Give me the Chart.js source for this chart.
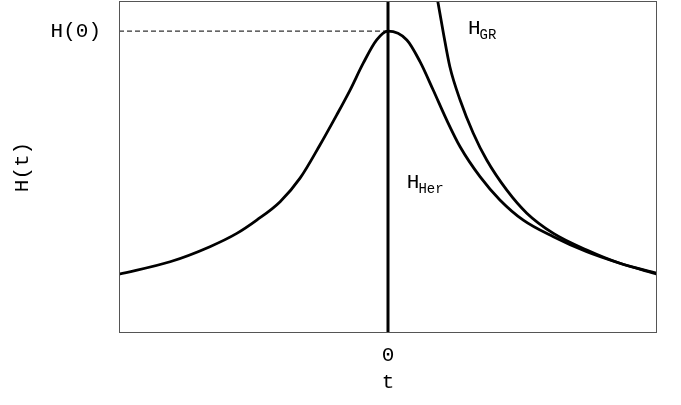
<!DOCTYPE html>
<html>
<head>
<meta charset="UTF-8">
<title>H(t)</title>
<script src="https://cdn.jsdelivr.net/npm/chart.js"></script>
<style>
  html, body { margin: 0; padding: 0; background: #fff; }
  #wrap { width: 681px; height: 405px; }
</style>
</head>
<body>
<div id="wrap"><canvas id="c" width="681" height="405"></canvas></div>
<script>
// H_Her curve
const tHer = [-1, -0.81, -0.662, -0.562, -0.488, -0.401, -0.327, -0.253, -0.191, -0.141, -0.092, -0.042, 0,
              0.07, 0.119, 0.168, 0.218, 0.268, 0.342, 0.416, 0.503, 0.615, 0.739, 0.862, 1.0];
const hHer = [0.195, 0.236, 0.286, 0.330, 0.374, 0.435, 0.513, 0.623, 0.722, 0.805, 0.894, 0.971, 1.0,
              0.971, 0.899, 0.805, 0.706, 0.617, 0.518, 0.441, 0.374, 0.319, 0.269, 0.231, 0.195];
// H_GR curve
const tGR = [0.175, 0.206, 0.23, 0.268, 0.317, 0.367, 0.441, 0.516, 0.615, 0.739, 0.862, 1.0];
const hGR = [1.15, 0.993, 0.882, 0.772, 0.662, 0.573, 0.474, 0.397, 0.330, 0.275, 0.231, 0.198];
// tick labels
const xTicks = [0];
const xTickLabels = ['0'];
const yTicks = [1];
const yTickLabels = ['H(0)'];

const FONT = '"Liberation Mono", "Courier New", monospace';

const pts = (xs, ys) => xs.map((x, i) => ({ x: x, y: ys[i] }));

// frame + curve labels
const extras = {
  id: 'extras',
  afterDatasetsDraw(chart) {
    const { ctx, chartArea: a, scales } = chart;
    ctx.save();
    ctx.strokeStyle = '#555';
    ctx.lineWidth = 1;
    ctx.strokeRect(a.left + 0.5, a.top + 0.5, a.right - a.left - 1, a.bottom - a.top - 1);

    const label = (main, sub, t, h) => {
      const x = scales.x.getPixelForValue(t);
      const y = scales.y.getPixelForValue(h);
      ctx.fillStyle = '#000';
      ctx.textBaseline = 'alphabetic';
      ctx.textAlign = 'left';
      ctx.font = '21px ' + FONT;
      ctx.fillText(main, x, y);
      const w = ctx.measureText(main).width;
      ctx.font = '14px ' + FONT;
      ctx.fillText(sub, x + w - 1, y + 5);
    };
    label('H', 'GR', 0.297, 0.99);
    label('H', 'Her', 0.07, 0.48);
    ctx.restore();
  }
};

new Chart(document.getElementById('c'), {
  type: 'scatter',
  data: {
    datasets: [
      { data: pts(tHer, hHer), showLine: true, borderColor: '#000', borderWidth: 2.8,
        pointRadius: 0, cubicInterpolationMode: 'monotone' },
      { data: pts(tGR, hGR), showLine: true, borderColor: '#000', borderWidth: 2.8,
        pointRadius: 0, cubicInterpolationMode: 'monotone' },
      // t = 0 line
      { data: [{ x: 0, y: 0 }, { x: 0, y: 1.1 }], showLine: true, borderColor: '#000',
        borderWidth: 3, pointRadius: 0 },
      // H(0) guide
      { data: [{ x: -1, y: 1 }, { x: 0, y: 1 }], showLine: true, borderColor: '#333',
        borderWidth: 1.2, borderDash: [5, 3], pointRadius: 0 }
    ]
  },
  options: {
    responsive: false,
    animation: false,
    layout: { padding: { top: 1, right: 24, bottom: 0, left: 0 } },
    plugins: { legend: { display: false }, tooltip: { enabled: false } },
    scales: {
      x: {
        type: 'linear', min: -1, max: 1,
        afterBuildTicks: s => { s.ticks = xTicks.map(v => ({ value: v })); },
        afterFit: s => { s.height = 72; s.paddingLeft = 0; s.paddingRight = 0; },
        ticks: { color: '#000', font: { family: FONT, size: 21 }, padding: 10,
                 callback: v => xTickLabels[xTicks.indexOf(v)] },
        grid: { display: false, drawTicks: false },
        border: { display: false },
        title: { display: true, text: 't', color: '#000', font: { family: FONT, size: 21 },
                 padding: { top: 0, bottom: 10 } }
      },
      y: {
        type: 'linear', min: 0, max: 1.1,
        afterBuildTicks: s => { s.ticks = yTicks.map(v => ({ value: v })); },
        afterFit: s => { s.width = 119; s.paddingTop = 0; s.paddingBottom = 0; },
        ticks: { color: '#000', font: { family: FONT, size: 21 }, padding: 18,
                 callback: v => yTickLabels[yTicks.indexOf(v)] },
        grid: { display: false, drawTicks: false },
        border: { display: false },
        title: { display: true, text: 'H(t)', color: '#000', font: { family: FONT, size: 21 },
                 padding: { top: 10, bottom: 0 } }
      }
    }
  },
  plugins: [extras]
});
</script>
</body>
</html>
